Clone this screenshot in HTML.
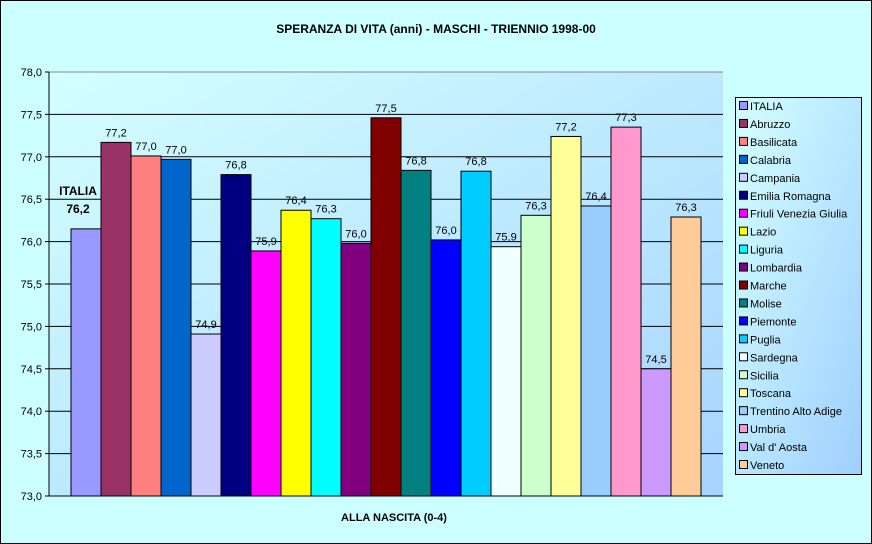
<!DOCTYPE html>
<html><head><meta charset="utf-8"><style>
body{margin:0;width:872px;height:544px;overflow:hidden;background:#fff}
svg{display:block;font-family:"Liberation Sans",Arial,sans-serif}
</style></head><body>
<svg width="872" height="544">
<defs>
<linearGradient id="pg" x1="0" y1="0" x2="1" y2="1">
<stop offset="0" stop-color="#d4ffff"/><stop offset="1" stop-color="#a6d4ff"/></linearGradient>
<linearGradient id="lg" x1="0" y1="0" x2="1" y2="1">
<stop offset="0" stop-color="#d4ffff"/><stop offset="1" stop-color="#9fcfff"/></linearGradient>
</defs>
<rect x="0.5" y="0.5" width="871" height="543" fill="#ccffff" stroke="#000"/>
<text x="436" y="33" text-anchor="middle" font-size="12" font-weight="bold">SPERANZA DI VITA (anni) - MASCHI - TRIENNIO 1998-00</text>
<rect x="49" y="72" width="674" height="424" fill="url(#pg)"/>
<g id="grid"></g>
<g id="bars"></g>
<line x1="49" y1="72" x2="49" y2="496" stroke="#000"/>
<line x1="49" y1="496" x2="723" y2="496" stroke="#000"/>
<text x="394" y="521" text-anchor="middle" font-size="11" font-weight="bold">ALLA NASCITA (0-4)</text>
<rect x="735.5" y="97.5" width="126" height="377" fill="url(#lg)" stroke="#000"/>
<g id="legend"></g>
</svg>
<script>
const categories=["ITALIA","Abruzzo","Basilicata","Calabria","Campania","Emilia Romagna","Friuli Venezia Giulia","Lazio","Liguria","Lombardia","Marche","Molise","Piemonte","Puglia","Sardegna","Sicilia","Toscana","Trentino Alto Adige","Umbria","Val d' Aosta","Veneto"];
const values=[76.15,77.17,77.01,76.97,74.91,76.79,75.89,76.37,76.27,75.98,77.46,76.84,76.02,76.83,75.94,76.31,77.24,76.42,77.35,74.5,76.29];
const colors=["#9999ff","#993366","#ff8080","#0066cc","#ccccff","#000080","#ff00ff","#ffff00","#00ffff","#800080","#800000","#008080","#0000ff","#00ccff","#f0ffff","#ccffcc","#ffff99","#99ccff","#ff99cc","#cc99ff","#ffcc99"];
const yTicks=[73,73.5,74,74.5,75,75.5,76,76.5,77,77.5,78];
const NS="http://www.w3.org/2000/svg";
const y0=496,y1=72,vmin=73,vmax=78;
const yScale=v=>y0-(v-vmin)/(vmax-vmin)*(y0-y1);
const bx0=71,bw=30;
const xScale=i=>bx0+i*bw;
function mk(tag,attrs,parent){const e=document.createElementNS(NS,tag);for(const k in attrs)e.setAttribute(k,attrs[k]);parent.appendChild(e);return e;}
const grid=document.getElementById('grid');
yTicks.forEach(t=>{
 const y=yScale(t);
 const l=mk('line',{x1:49,x2:723,y1:y,y2:y,stroke:t===78?'#888':'#000','stroke-width':1},grid);
 
 
 const tk=mk('line',{x1:45,x2:49,y1:y,y2:y,stroke:'#000'},grid);
 
 
 const tx=mk('text',{x:42,y:y+4,'text-anchor':'end','font-size':11},grid);
 tx.textContent=t.toFixed(1).replace('.',',');
 
 
});
const bars=document.getElementById('bars');
values.forEach((v,i)=>{
 const x=xScale(i),y=yScale(v);
 const r=mk('rect',{x:x,y:y,width:bw,height:y0-y,fill:colors[i],stroke:'#000','stroke-width':1},bars);
 
 
 const lbl=v.toFixed(1).replace('.',',');
 if(i===0){
  const t1=mk('text',{x:x+7,y:y-34,'text-anchor':'middle','font-size':12,'font-weight':'bold'},bars);
  t1.textContent='ITALIA';
  
  
  const t2=mk('text',{x:x+7,y:y-16,'text-anchor':'middle','font-size':12,'font-weight':'bold'},bars);
  t2.textContent=lbl;
  
  
 } else {
  const t=mk('text',{x:x+bw/2,y:y-6,'text-anchor':'middle','font-size':11},bars);
  t.textContent=lbl;
  
  
 }
});
const lg=document.getElementById('legend');
categories.forEach((c,i)=>{
 const y=106+i*17.95;
 const g=mk('g',{},lg);
 
 
 mk('rect',{x:739.5,y:y-4.5,width:8,height:8,fill:colors[i],stroke:'#000'},g);
 const t=mk('text',{x:750,y:y+4,'font-size':11},g);
 t.textContent=c;
});
</script>
</body></html>
